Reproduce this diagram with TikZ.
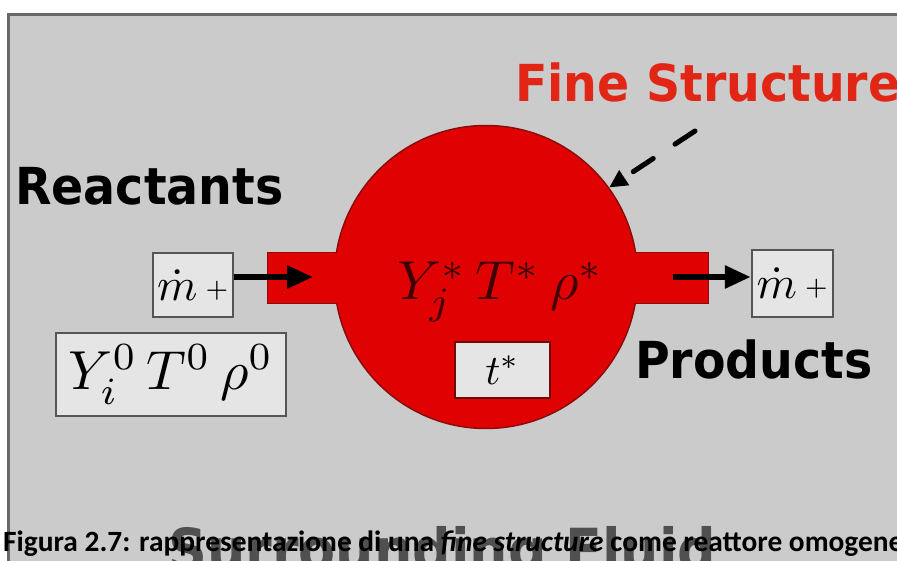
\documentclass[tikz,border=0pt]{standalone}
\usepackage{fontspec}
\usepackage{amsmath}
\usepackage{tikz}
\usepackage{xcolor}
\usetikzlibrary{arrows.meta}
\newfontfamily\signfont{DejaVu Sans}
\newfontfamily\capfont{Carlito}
\definecolor{bggray}{RGB}{203,203,203}
\definecolor{framegray}{RGB}{105,105,105}
\definecolor{fsred}{RGB}{224,2,2}
\definecolor{fsedge}{RGB}{140,12,12}
\definecolor{titlered}{RGB}{226,38,22}
\definecolor{boxfill}{RGB}{229,229,229}
\definecolor{boxedge}{RGB}{85,85,85}
\definecolor{stateink}{RGB}{62,0,0}
\definecolor{fluidgray}{RGB}{80,80,80}
\newcommand{\mflow}{\scalebox{4.6}{$\dot{m}\,\raisebox{0.9pt}{\tiny$+$}$}}

\begin{document}
\begin{tikzpicture}[x=1pt,y=-1pt,
  bigword/.style={font=\signfont\bfseries\fontsize{51}{55}\selectfont,inner sep=0pt,anchor=base west},
  qbox/.style={draw=boxedge,line width=2.5pt,fill=boxfill,inner sep=0pt},
  flowarrow/.style={line width=6pt,-{Triangle[length=26pt,width=22pt]}},
  tube/.style={fsedge,line width=1.5pt}]
\useasboundingbox (0,0) rectangle (897,561);
\fill[white] (0,0) rectangle (897,561);
\fill[bggray] (7,13) rectangle (897,561);
\draw[framegray,line width=3pt] (8.5,561) -- (8.5,14.5) -- (897,14.5);

\node[bigword,text=fluidgray] (fluid) at (168,570) {\fontsize{58}{60}\selectfont\scalebox{0.93}[1]{Surrounding Fluid}};

\draw[tube] (268,253) rectangle (420,303);
\draw[tube] (550,253) rectangle (708,303);
\node[circle,fill=fsred,draw=fsedge,line width=1.5pt,minimum size=303pt,inner sep=0pt] (fs) at (486,277) {};
\fill[fsred] (268,253) rectangle (420,303);
\fill[fsred] (550,253) rectangle (708,303);

\node[anchor=base west,inner sep=0pt,text=stateink] (fsstate) at (397,300) {\scalebox{5.5}{$Y_j^{*}\,T^{*}\,\rho^{*}$}};
\node[qbox,draw=fsedge!80!black,minimum width=95pt,minimum height=56pt] (tstar) at (502.5,370) {\scalebox{4.2}{$t^{*}$}};

\node[qbox,minimum width=80pt,minimum height=64pt] (mdotin) at (193,285) {\mflow};
\node[qbox,minimum width=81pt,minimum height=67pt] (mdotout) at (792.5,283.5) {\mflow};
\node[qbox,minimum width=230pt,minimum height=83pt] (inflow) at (171,374.5) {\scalebox{5.5}{$Y_i^{0}\,T^{0}\,\rho^{0}$}};

\coordinate (intip) at (313,277);
\coordinate (outtail) at (673,277);
\draw[flowarrow] (mdotin.east |- intip) -- (intip);
\draw[flowarrow] (outtail) -- (outtail -| mdotout.west);

\node[bigword] (reactants) at (15,205) {\scalebox{0.93}[1]{Reactants}};
\node[bigword] (products) at (635,378) {\scalebox{0.93}[1]{Products}};
\node[bigword,text=titlered] (fstitle) at (515,102) {\scalebox{0.93}[1]{Fine Structure}};

\coordinate (ptrstart) at (695,131);
\draw[line width=5pt,line cap=round,dash pattern=on 24pt off 26pt,-{Triangle[length=18pt,width=17pt]}] (ptrstart) -- (fs.36);

\node[anchor=base west,inner sep=0pt,font=\capfont\bfseries\fontsize{29.4}{31}\selectfont] (caption) at (3,551) {Figura 2.7: rappresentazione di una \textit{fine structure} come reattore omogene};
\end{tikzpicture}
\end{document}
